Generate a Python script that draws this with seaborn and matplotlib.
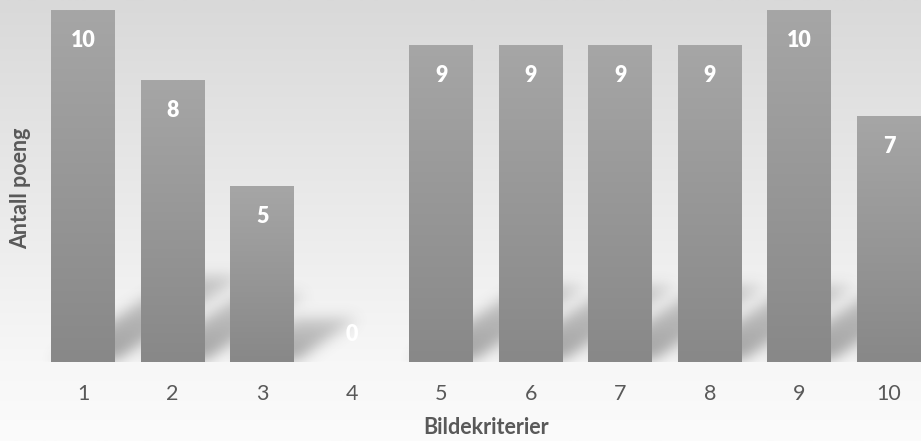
import numpy as np
import pandas as pd
import seaborn as sns
import matplotlib.pyplot as plt
from matplotlib.colors import LinearSegmentedColormap
from matplotlib.patches import Rectangle
from matplotlib.path import Path

categories = ["1", "2", "3", "4", "5", "6", "7", "8", "9", "10"]
values = [10, 8, 5, 0, 9, 9, 9, 9, 10, 7]
x_title = "Bildekriterier"
y_title = "Antall poeng"

df = pd.DataFrame({"kriterium": categories, "poeng": values})

sns.set_theme(style="white")
plt.rcParams["font.family"] = ["Lato", "DejaVu Sans"]

W, H = 921, 441
fig = plt.figure(figsize=(W / 100, H / 100), dpi=100)

# background gradient over whole figure
bg = fig.add_axes([0, 0, 1, 1], zorder=-10)
grad = np.linspace(0, 1, 256).reshape(-1, 1)
bg_cmap = LinearSegmentedColormap.from_list("bg", [(0, "#d9d9d9"), (0.82, "#f7f7f7"), (1, "#fbfbfb")])
bg.imshow(grad, aspect="auto", cmap=bg_cmap, extent=[0, 1, 0, 1], origin="upper")
bg.set_axis_off()

spacing = 89.56
c0 = 83
ax = fig.add_axes([0, 1 - 362 / H, 1, 352 / H])
ax.patch.set_alpha(0)
bar_w = 64 / spacing
sns.barplot(data=df, x="kriterium", y="poeng", color="#999999", width=bar_w,
            ax=ax, saturation=1, zorder=3, linewidth=0, edgecolor="none")
bars = [p for p in ax.patches if isinstance(p, Rectangle)]
x_lo, x_hi = -c0 / spacing, (W - c0) / spacing
ax.set_xlim(x_lo, x_hi)
ax.set_ylim(0, 10)

# soft perspective shadows (rasterised + blurred)
nx, ny = 460, 176
gx = np.linspace(x_lo, x_hi, nx)
gy = np.linspace(0, 10, ny)
XX, YY = np.meshgrid(gx, gy)
pts = np.column_stack([XX.ravel(), YY.ravel()])
mask = np.zeros_like(XX)
for p in bars:
    v = p.get_height()
    if v <= 0:
        continue
    xl, xr = p.get_x(), p.get_x() + p.get_width()
    dh = 0.24 * v
    dx = 0.14 * v
    path = Path([(xl, 0), (xr, 0), (xr + dx, dh), (xl + dx, dh), (xl, 0)])
    inside = path.contains_points(pts).reshape(XX.shape)
    fade = np.clip(1 - 0.5 * YY / dh, 0, 1)
    mask = np.maximum(mask, inside * fade)


def blur(a, sigma, axis):
    r = int(3 * sigma)
    k = np.exp(-0.5 * (np.arange(-r, r + 1) / sigma) ** 2)
    k /= k.sum()
    return np.apply_along_axis(lambda m: np.convolve(m, k, mode="same"), axis, a)


mask = blur(blur(mask, 3.5, 1), 3.5, 0)
shadow = np.zeros((ny, nx, 4))
shadow[..., :3] = 0.35
shadow[..., 3] = np.clip(mask * 0.55, 0, 1)
ax.imshow(shadow, aspect="auto", extent=[x_lo, x_hi, 0, 10], origin="lower",
          zorder=1, interpolation="bilinear")

# gradient bars
bar_cmap = LinearSegmentedColormap.from_list("bar", ["#a6a6a6", "#888888"])
for p in bars:
    x0, y0 = p.get_x(), p.get_y()
    w, h = p.get_width(), p.get_height()
    if h <= 0:
        continue
    im = ax.imshow(grad, aspect="auto", cmap=bar_cmap, extent=[x0, x0 + w, y0, y0 + h],
                   origin="upper", zorder=4)
    im.set_clip_path(p)
ax.set_xlim(x_lo, x_hi)
ax.set_ylim(0, 10)

# value labels
for i, v in enumerate(values):
    off = -22 if v > 0 else 20
    ax.annotate(str(v), (i, v), xytext=(0, off), textcoords="offset points",
                ha="center", va="center", color="white", fontsize=15.5, fontweight="heavy", zorder=6)

ax.set_xlabel("")
ax.set_ylabel("")
ax.set_yticks([])
ax.tick_params(axis="x", length=0, pad=16, labelsize=15.5, labelcolor="#595959")
for s in ax.spines.values():
    s.set_visible(False)

fig.text(21 / W, 1 - 188 / H, y_title, rotation=90, ha="center", va="center",
         fontsize=15.5, fontweight="bold", color="#595959")
fig.text(0.5 * (c0 + 889) / W, 1 - 428 / H, x_title, ha="center", va="center",
         fontsize=15.5, fontweight="bold", color="#595959")

fig.savefig("out.png", dpi=100)
